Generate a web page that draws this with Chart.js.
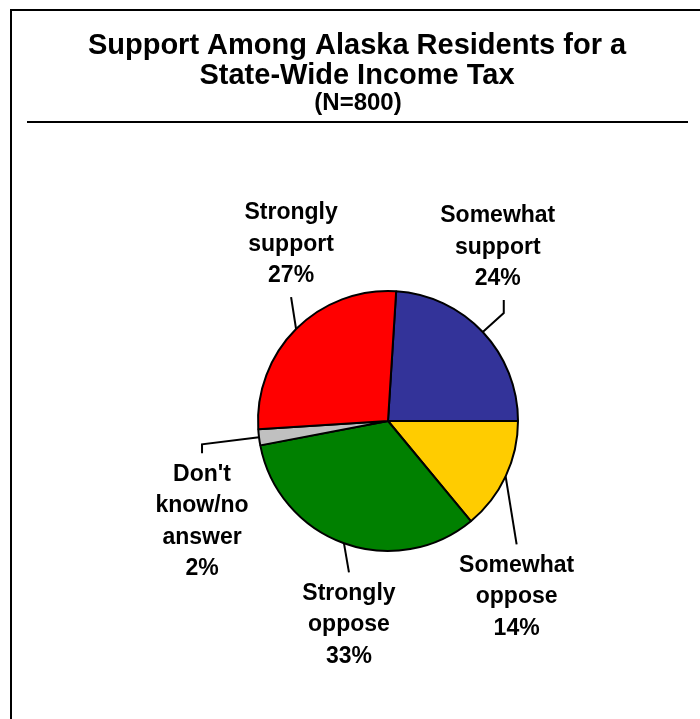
<!DOCTYPE html>
<html>
<head>
<meta charset="utf-8">
<script src="https://cdn.jsdelivr.net/npm/chart.js@4.4.0/dist/chart.umd.min.js"></script>
<style>
  html, body { margin: 0; padding: 0; background: #fff; }
  canvas { display: block; }
</style>
</head>
<body>
<canvas id="taxChart" width="700" height="719"></canvas>
<script>
const categories = ['Somewhat support', 'Somewhat oppose', 'Strongly oppose', "Don't know/no answer", 'Strongly support'];
const percents = [24, 14, 33, 2, 27];
const sliceColors = ['#333399', '#FFCC00', '#008000', '#C0C0C0', '#FF0000'];
const titleLines = ['Support Among Alaska Residents for a', 'State-Wide Income Tax'];
const subtitle = '(N=800)';

// leader line for each slice, offsets measured from the rim point at the slice's middle
const callouts = [
  { tail: [21, -32], elbow: [21, -19], shiftX: -6 },
  { tail: [11, 68] },
  { tail: [5, 29] },
  { tail: [-57, 16], elbow: [-57, 7] },
  { tail: [-5, -32] }
];

const labelFont = 'bold 23px "Liberation Sans", Arial, sans-serif';
const lineGap = 31.5;

const framePlugin = {
  id: 'frame',
  beforeDraw(chart) {
    const ctx = chart.ctx;
    ctx.save();
    ctx.fillStyle = '#fff';
    ctx.fillRect(0, 0, chart.width, chart.height);
    ctx.strokeStyle = '#000';
    ctx.lineWidth = 2;
    ctx.beginPath();
    ctx.moveTo(11, chart.height);
    ctx.lineTo(11, 10);
    ctx.lineTo(chart.width, 10);
    ctx.stroke();
    ctx.beginPath();
    ctx.moveTo(27, 122);
    ctx.lineTo(688, 122);
    ctx.stroke();

    ctx.fillStyle = '#000';
    ctx.textAlign = 'center';
    ctx.textBaseline = 'alphabetic';
    ctx.font = 'bold 29px "Liberation Sans", Arial, sans-serif';
    ctx.fillText(titleLines[0], 357, 54);
    ctx.fillText(titleLines[1], 357, 84);
    ctx.font = 'bold 24px "Liberation Sans", Arial, sans-serif';
    ctx.fillText(subtitle, 358, 110);
    ctx.restore();
  }
};

const calloutPlugin = {
  id: 'callouts',
  afterDatasetsDraw(chart) {
    const ctx = chart.ctx;
    const arcs = chart.getDatasetMeta(0).data;
    ctx.save();
    ctx.strokeStyle = '#000';
    ctx.lineWidth = 2;
    ctx.fillStyle = '#000';
    ctx.font = labelFont;
    ctx.textAlign = 'center';
    ctx.textBaseline = 'middle';
    arcs.forEach((arc, i) => {
      const { x, y, startAngle, endAngle, outerRadius } = arc.getProps(['x', 'y', 'startAngle', 'endAngle', 'outerRadius'], true);
      const mid = (startAngle + endAngle) / 2;
      const px = x + Math.cos(mid) * outerRadius;
      const py = y + Math.sin(mid) * outerRadius;
      const c = callouts[i];
      const tx = px + c.tail[0];
      const ty = py + c.tail[1];
      ctx.beginPath();
      ctx.moveTo(px, py);
      if (c.elbow) ctx.lineTo(px + c.elbow[0], py + c.elbow[1]);
      ctx.lineTo(tx, ty);
      ctx.stroke();

      // one word per line, then the share underneath
      const lines = categories[i].split(' ');
      lines.push(percents[i] + '%');
      const lx = tx + (c.shiftX || 0);
      const above = c.tail[1] < 0;
      lines.forEach((line, k) => {
        const ly = above
          ? ty - 21 - lineGap * (lines.length - 1 - k)
          : ty + 21 + lineGap * k;
        ctx.fillText(line, lx, ly);
      });
    });
    ctx.restore();
  }
};

new Chart(document.getElementById('taxChart').getContext('2d'), {
  type: 'pie',
  data: {
    labels: categories,
    datasets: [{
      data: percents,
      backgroundColor: sliceColors,
      borderColor: '#000',
      borderWidth: 2,
      radius: 130
    }]
  },
  options: {
    responsive: false,
    animation: false,
    rotation: 3.6,
    layout: { padding: { left: 176, right: 100, top: 223, bottom: 100 } },
    plugins: {
      legend: { display: false },
      tooltip: { enabled: false }
    }
  },
  plugins: [framePlugin, calloutPlugin]
});
</script>
</body>
</html>
